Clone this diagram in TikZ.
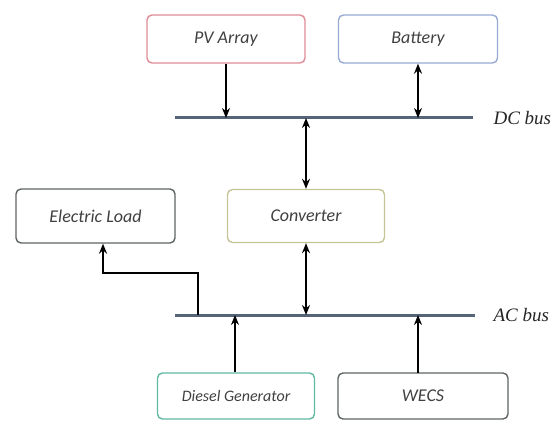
\documentclass[tikz,border=0pt]{standalone}
\usepackage{fontspec}
\setmainfont{Liberation Serif}
\newfontfamily\boxfont{Carlito}
\usetikzlibrary{arrows.meta}
\definecolor{pvred}{RGB}{222,140,150}
\definecolor{batblue}{RGB}{150,170,212}
\definecolor{convkhaki}{RGB}{196,196,150}
\definecolor{dgteal}{RGB}{95,185,165}
\definecolor{boxgray}{RGB}{95,100,100}
\definecolor{busgray}{RGB}{85,100,118}
\begin{document}
\begin{tikzpicture}[x=1pt, y=-1pt, >={Stealth[length=10pt,width=8pt]},
    blk/.style={draw, rounded corners=5pt, line width=1.4pt, inner sep=0pt,
      font=\boxfont\itshape\fontsize{18}{20}\selectfont, text=black!75},
    bus/.style={line width=3pt, draw=busgray},
    buslabel/.style={anchor=west, font=\itshape\fontsize{19}{21}\selectfont, text=black!85},
    link/.style={line width=1.6pt}]
  \useasboundingbox (0,0) rectangle (551,422);
  % sources and loads
  \node[blk, draw=pvred, minimum width=158pt, minimum height=48pt] (pv) at (226,39) {PV Array};
  \node[blk, draw=batblue, minimum width=159pt, minimum height=48pt] (bat) at (418,39) {Battery};
  \node[blk, draw=convkhaki, minimum width=157pt, minimum height=53pt] (conv) at (306,216) {Converter};
  \node[blk, draw=boxgray, minimum width=159pt, minimum height=54pt] (load) at (95.5,216) {Electric Load};
  \node[blk, draw=dgteal, minimum width=157pt, minimum height=46pt, font=\boxfont\itshape\fontsize{16}{18}\selectfont] (dg) at (236,396) {Diesel Generator};
  \node[blk, draw=boxgray, minimum width=170pt, minimum height=46pt] (wecs) at (423,396) {WECS};
  % buses
  \coordinate (dcL) at (175,118);
  \coordinate (dcR) at (473,118);
  \coordinate (acL) at (175,315);
  \coordinate (acR) at (475,315);
  \draw[bus] (dcL) -- (dcR);
  \draw[bus] (acL) -- (acR);
  \node[buslabel] (dclab) at (490,118) {DC bus};
  \node[buslabel] (aclab) at (490,315) {AC bus};
  % connections
  \draw[link, ->] (pv.south) -- (pv.south |- dcL);
  \draw[link, <->] (bat.south) -- (bat.south |- dcL);
  \draw[link, <->] (conv.north |- dcL) -- (conv.north);
  \draw[link, <->] (conv.south) -- (conv.south |- acL);
  \coordinate (tap) at (198,315);
  \draw[link, ->] (tap) -- ++(0,-42) -| ([xshift=7.5pt]load.south);
  \draw[link, ->] ([xshift=-1pt]dg.north) -- ([xshift=-1pt]dg.north |- acL);
  \coordinate (wecsup) at (418,373);
  \draw[link, ->] (wecsup) -- (wecsup |- acL);
\end{tikzpicture}
\end{document}
